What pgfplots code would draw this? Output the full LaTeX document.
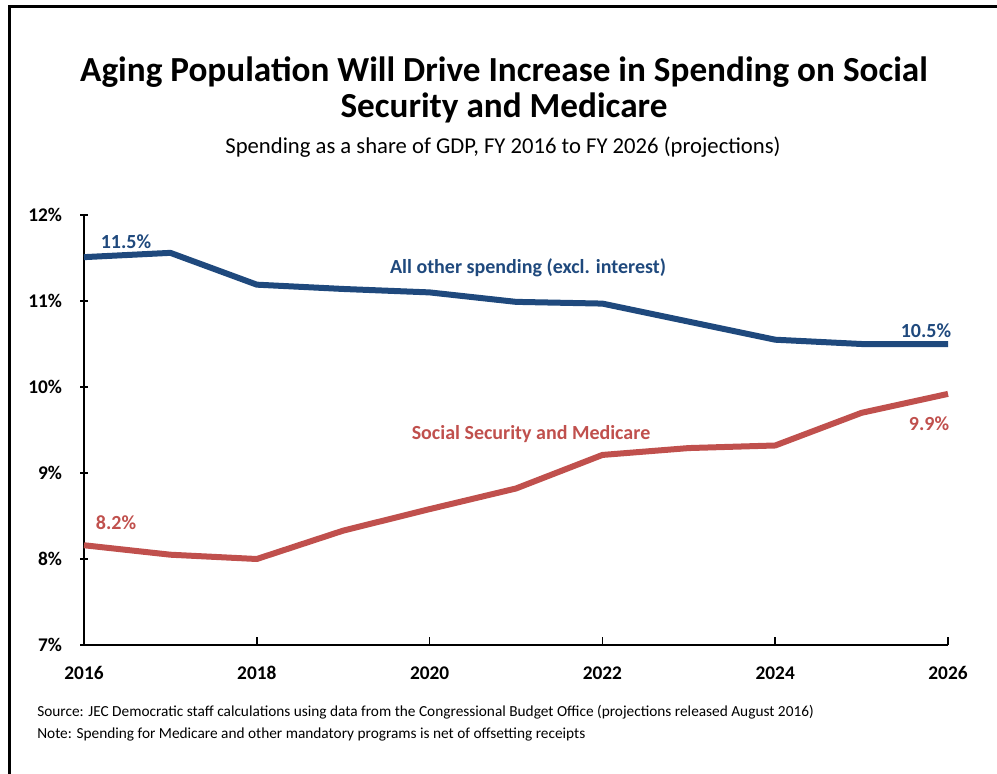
\documentclass[border=0pt]{standalone}
\usepackage{pgfplots}
\pgfplotsset{compat=1.18}
\usepackage{fontspec}
\setmainfont{Carlito}
\definecolor{jecblue}{RGB}{31,73,125}
\definecolor{jecred}{RGB}{192,80,77}
\begin{document}
\begin{tikzpicture}
\path[use as bounding box] (0,0) rectangle (747.75pt,-580.5pt);
\begin{axis}[
  at={(63pt,-483.75pt)}, anchor=south west,
  scale only axis, width=648pt, height=322.5pt,
  xmin=2016, xmax=2026, ymin=7, ymax=12,
  axis x line*=bottom, axis y line*=left,
  axis line style={line width=1.5pt, -},
  xtick={2016,2018,2020,2022,2024,2026},
  xticklabels={2016,2018,2020,2022,2024,2026},
  ytick={7,8,9,10,11,12},
  yticklabels={7\%,8\%,9\%,10\%,11\%,12\%},
  x tick style={line width=1.2pt, black},
  y tick style={line width=1.2pt, black},
  xtick align=inside, ytick align=center,
  major tick length=6pt,
  ticklabel style={font=\fontsize{14.5}{17}\selectfont\bfseries},
  xticklabel style={yshift=-12.5pt},
  yticklabel style={xshift=-10pt},
  clip=false,
]
\addplot[jecblue, line width=4.5pt, line join=round] coordinates {
 (2016,11.51) (2017,11.56) (2018,11.19) (2019,11.14) (2020,11.10) (2021,10.99)
 (2022,10.97) (2023,10.76) (2024,10.55) (2025,10.50) (2026,10.50)};
\addplot[jecred, line width=4.5pt, line join=round] coordinates {
 (2016,8.16) (2017,8.05) (2018,8.00) (2019,8.33) (2020,8.58) (2021,8.82)
 (2022,9.21) (2023,9.29) (2024,9.32) (2025,9.70) (2026,9.92)};
\end{axis}
\begin{scope}[x=0.75pt,y=-0.75pt]
\draw[line width=2.25pt] (9,774) -- (9,7) -- (997,7);
\node[font=\fontsize{26.4}{29}\selectfont\bfseries] at (504,72) {Aging Population Will Drive Increase in Spending on Social};
\node[font=\fontsize{26.4}{29}\selectfont\bfseries] at (504,108) {Security and Medicare};
\node[font=\fontsize{17}{20}\selectfont] at (503,147) {Spending as a share of GDP, FY 2016 to FY 2026 (projections)};
\node[font=\fontsize{15}{18}\selectfont\bfseries, text=jecblue] at (528,268) {All other spending (excl. interest)};
\node[font=\fontsize{15}{18}\selectfont\bfseries, text=jecred] at (531,434) {Social Security and Medicare};
\node[font=\fontsize{15}{18}\selectfont\bfseries, text=jecblue] at (126,242) {11.5\%};
\node[font=\fontsize{15}{18}\selectfont\bfseries, text=jecblue] at (926,331) {10.5\%};
\node[font=\fontsize{15}{18}\selectfont\bfseries, text=jecred] at (929,424) {9.9\%};
\node[font=\fontsize{15}{18}\selectfont\bfseries, text=jecred] at (116,523) {8.2\%};
\node[font=\fontsize{11.5}{14}\selectfont, anchor=west, inner sep=0pt] at (37,712) {Source: JEC Democratic staff calculations using data from the Congressional Budget Office (projections released August 2016)};
\node[font=\fontsize{11.5}{14}\selectfont, anchor=west, inner sep=0pt] at (37,734) {Note: Spending for Medicare and other mandatory programs is net of offsetting receipts};
\end{scope}
\end{tikzpicture}
\end{document}
